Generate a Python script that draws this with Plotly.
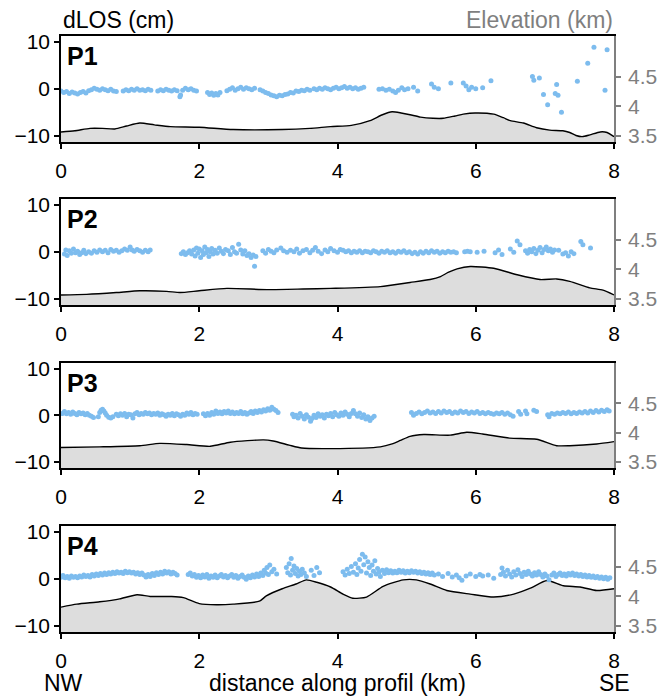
import plotly.graph_objects as go

# ---------------- data ----------------
dist_ticks = [0, 2, 4, 6, 8]
dlos_ticks = [-10, 0, 10]
dlos_ticktext = ["\u221210", "0", "10"]
elev_ticks = [3.5, 4, 4.5]
elev_ticktext = ["3.5", "4", "4.5"]
panel_names = ["P1", "P2", "P3", "P4"]

# elevation profiles (km along profile, elevation km)
p1_elev_x = [0, 0.2, 0.42, 0.6, 0.78, 0.95, 1.14, 1.35, 1.58, 2.0, 2.49, 3.2, 3.6, 3.9, 4.2, 4.47, 4.65, 4.79, 4.92,
             5.05, 5.2, 5.38, 5.53, 5.7, 5.82, 5.99, 6.26, 6.4, 6.5, 6.69, 6.88, 7.07, 7.26, 7.36, 7.45, 7.54, 7.65,
             7.8, 7.9, 8.0]
p1_elev_z = [3.57, 3.59, 3.63, 3.63, 3.62, 3.67, 3.72, 3.69, 3.66, 3.65, 3.61, 3.61, 3.63, 3.66, 3.68, 3.76, 3.86, 3.91,
             3.89, 3.86, 3.82, 3.80, 3.80, 3.84, 3.87, 3.89, 3.87, 3.81, 3.76, 3.72, 3.64, 3.60, 3.59, 3.56, 3.51, 3.49,
             3.52, 3.57, 3.56, 3.49]

p2_elev_x = [0, 0.37, 0.8, 1.14, 1.53, 1.72, 2.0, 2.4, 2.98, 3.5, 3.9, 4.62, 5.05, 5.34, 5.49, 5.6, 5.73, 5.92, 6.26,
             6.6, 6.93, 7.17, 7.36, 7.65, 7.84, 8.0]
p2_elev_z = [3.57, 3.58, 3.61, 3.64, 3.63, 3.61, 3.64, 3.68, 3.66, 3.67, 3.68, 3.71, 3.78, 3.83, 3.88, 3.95, 4.01, 4.05,
             4.02, 3.91, 3.83, 3.84, 3.80, 3.69, 3.65, 3.57]

p3_elev_x = [0, 0.56, 1.14, 1.43, 1.82, 2.16, 2.45, 2.93, 3.07, 3.3, 3.48, 3.9, 4.62, 4.79, 4.91, 5.05, 5.25, 5.63,
             5.87, 6.1, 6.49, 6.88, 7.17, 7.36, 7.75, 8.0]
p3_elev_z = [3.75, 3.76, 3.78, 3.82, 3.80, 3.77, 3.84, 3.88, 3.86, 3.79, 3.74, 3.73, 3.76, 3.81, 3.87, 3.94, 3.97, 3.96,
             4.01, 3.98, 3.91, 3.89, 3.78, 3.78, 3.81, 3.85]

p4_elev_x = [0, 0.23, 0.56, 0.85, 1.1, 1.29, 1.6, 1.77, 2.0, 2.25, 2.49, 2.87, 2.97, 3.2, 3.4, 3.55, 3.7, 3.9, 4.08,
             4.22, 4.42, 4.66, 4.95, 5.14, 5.34, 5.58, 5.92, 6.26, 6.55, 6.79, 7.03, 7.27, 7.51, 7.75, 8.0]
p4_elev_z = [3.82, 3.87, 3.91, 3.96, 4.03, 4.00, 4.00, 3.98, 3.88, 3.86, 3.87, 3.92, 4.01, 4.13, 4.21, 4.28, 4.24, 4.16,
             4.04, 3.97, 3.99, 4.17, 4.28, 4.28, 4.21, 4.10, 4.04, 3.99, 4.04, 4.14, 4.27, 4.18, 4.16, 4.10, 4.13]

# dLOS points (km along profile, cm)
p1_los_x = [0.00, 0.04, 0.08, 0.12, 0.16, 0.20, 0.24, 0.28, 0.32, 0.36, 0.40, 0.44, 0.48, 0.52, 0.56, 0.60, 0.64, 0.68,
            0.72, 0.76, 0.80, 0.90, 0.94, 0.98, 1.02, 1.06, 1.10, 1.14, 1.18, 1.22, 1.26, 1.30, 1.40, 1.44, 1.48, 1.52,
            1.56, 1.60, 1.64, 1.68, 1.72, 1.73, 1.76, 1.80, 1.84, 1.88, 1.92, 1.96, 2.12, 2.15, 2.18, 2.21, 2.24, 2.27,
            2.30, 2.40, 2.44, 2.48, 2.52, 2.56, 2.60, 2.64, 2.68, 2.72, 2.76, 2.80, 2.88, 2.92, 2.96, 3.00, 3.04, 3.08,
            3.12, 3.16, 3.20, 3.24, 3.28, 3.32, 3.36, 3.40, 3.44, 3.48, 3.52, 3.56, 3.60, 3.66, 3.70, 3.74, 3.78, 3.82,
            3.86, 3.90, 3.94, 3.98, 4.02, 4.06, 4.10, 4.14, 4.18, 4.22, 4.26, 4.30, 4.34, 4.38, 4.60, 4.65, 4.70, 4.75,
            4.80, 4.84, 4.88, 4.93, 4.97, 5.02, 5.10, 5.16, 5.36, 5.40, 5.46, 5.64, 5.82, 5.86, 5.90, 5.94, 6.00, 6.10,
            6.22, 6.82, 6.84, 6.92, 6.98, 7.04, 7.15, 7.17, 7.19, 7.24, 7.47, 7.62, 7.71, 7.87, 7.90]
p1_los_y = [-0.5, -0.8, -0.6, -1.0, -0.7, -0.9, -1.1, -0.8, -0.6, -0.9, -0.4, -0.2, 0.1, -0.1, -0.3, 0.0, -0.2, -0.4,
            -0.1, -0.5, -0.6, -0.5, -0.2, -0.4, -0.1, -0.3, 0.0, -0.3, -0.2, -0.4, -0.1, -0.3, -0.5, -0.2, -0.4, -0.1,
            -0.3, -0.5, -0.2, -0.4, -1.7, -1.3, -0.3, 0.1, -0.2, 0.0, -0.3, -0.5, -0.8, -1.2, -0.9, -1.4, -1.0, -1.3,
            -0.8, -0.4, -0.1, 0.2, -0.3, 0.0, 0.3, -0.1, 0.2, 0.0, -0.2, 0.1, -0.2, -0.5, -0.8, -1.0, -1.3, -1.5,
            -1.7, -1.4, -1.5, -1.2, -1.1, -0.8, -0.9, -0.5, -0.6, -0.3, -0.4, -0.1, -0.3, 0.0, -0.2, 0.1, -0.1, 0.2,
            0.0, -0.2, 0.1, 0.3, 0.0, 0.2, 0.5, 0.1, 0.3, 0.0, 0.2, -0.1, 0.1, 0.3, -0.1, 0.0, -0.3, -0.1, -0.5,
            -0.8, -0.3, 0.2, -0.2, 0.0, 0.3, -0.5, 1.0, 0.3, 0.0, 1.2, 1.2, 0.6, -0.2, 0.3, 0.0, 0.2, 1.7, 2.6,
            1.8, 2.3, -1.2, -3.4, -1.0, 0.9, -1.4, -5.0, 1.6, 5.4, 8.8, -0.3, 8.3]

p2_los_x = [0.05, 0.07, 0.09, 0.12, 0.15, 0.18, 0.21, 0.24, 0.27, 0.30, 0.33, 0.36, 0.40, 0.44, 0.48, 0.52, 0.56, 0.60,
            0.64, 0.68, 0.72, 0.76, 0.80, 0.84, 0.88, 0.92, 0.96, 1.00, 1.03, 1.06, 1.10, 1.14, 1.18, 1.22, 1.26, 1.29,
            1.74, 1.77, 1.80, 1.83, 1.86, 1.89, 1.92, 1.94, 1.96, 1.98, 2.00, 2.02, 2.04, 2.06, 2.08, 2.10, 2.12, 2.14,
            2.16, 2.18, 2.20, 2.23, 2.26, 2.29, 2.32, 2.35, 2.38, 2.42, 2.45, 2.48, 2.51, 2.54, 2.57, 2.60, 2.63, 2.66,
            2.69, 2.72, 2.75, 2.78, 2.80, 2.82, 2.92, 2.96, 3.00, 3.04, 3.08, 3.12, 3.18, 3.22, 3.27, 3.32, 3.37, 3.41,
            3.45, 3.50, 3.55, 3.60, 3.64, 3.68, 3.72, 3.77, 3.82, 3.86, 3.90, 3.95, 4.00, 4.04, 4.08, 4.12, 4.16, 4.20,
            4.24, 4.28, 4.32, 4.36, 4.40, 4.44, 4.48, 4.52, 4.56, 4.60, 4.64, 4.68, 4.72, 4.76, 4.80, 4.84, 4.88, 4.92,
            4.96, 5.00, 5.04, 5.08, 5.12, 5.16, 5.20, 5.24, 5.28, 5.32, 5.36, 5.40, 5.44, 5.48, 5.52, 5.56, 5.60, 5.64,
            5.68, 5.72, 5.84, 5.88, 5.92, 6.02, 6.12, 6.28, 6.33, 6.38, 6.50, 6.55, 6.60, 6.64, 6.72, 6.75, 6.78, 6.81,
            6.84, 6.87, 6.90, 6.93, 6.96, 6.99, 7.02, 7.05, 7.08, 7.11, 7.14, 7.20, 7.26, 7.30, 7.34, 7.38, 7.42, 7.52,
            7.55, 7.66]
p2_los_y = [-0.5, 0.4, -0.8, 0.2, -0.3, 0.6, -0.2, 0.1, -0.6, -0.2, 0.3, -0.4, 0.0, -0.3, 0.2, -0.1, 0.4, 0.0,
            0.3, -0.2, 0.5, 0.1, 0.3, -0.1, 0.2, 0.6, 0.3, 1.0, 0.4, 0.1, 0.5, 0.2, -0.1, 0.3, 0.0, 0.4,
            -0.4, 0.0, -0.6, -0.2, 0.2, -0.5, 0.4, -0.9, 0.8, -0.3, 0.6, -1.2, 0.2, -0.6, 1.0, -0.2, 0.5, -1.0,
            0.0, 0.7, -0.5, 0.3, -0.3, 0.8, 0.1, -0.4, 0.5, 0.2, -0.6, 0.9, 0.0, -0.3, 1.6, 0.4, -0.5, 0.2,
            -0.8, -0.4, -1.2, -0.7, -3.1, -1.0, 0.2, -0.3, 0.5, 0.1, -0.2, 0.4, 0.8, 0.2, -0.1, 0.3, 0.0, 0.6,
            -0.3, 0.2, 0.5, -0.2, 0.3, 0.9, 0.1, -0.4, 0.4, 0.0, 0.7, 0.2, -0.1, 0.5, 0.3, 0.0, 0.2, -0.2,
            0.1, -0.1, 0.2, -0.2, 0.1, 0.0, -0.2, 0.2, 0.0, -0.3, 0.1, -0.1, 0.2, -0.2, 0.0, -0.3, 0.1, -0.1,
            0.2, -0.2, 0.0, -0.4, -0.1, -0.5, 0.0, -0.3, 0.1, -0.2, 0.2, -0.1, 0.1, -0.3, 0.0, -0.2, 0.1, -0.1,
            0.0, -0.2, 0.0, 0.1, 0.0, -0.1, 0.1, -0.2, 0.4, -0.6, 0.6, -0.1, 2.3, 1.5, 0.2, -0.3, 0.5, 0.0,
            0.7, -0.4, 0.3, 0.9, -0.2, 0.5, 1.0, 0.2, 0.6, -0.1, 0.4, 0.3, -0.5, -0.2, -0.9, 0.0, -0.4, 2.2,
            1.5, 0.8]

p3_los_x = [0.02, 0.05, 0.08, 0.11, 0.14, 0.17, 0.20, 0.23, 0.26, 0.29, 0.32, 0.35, 0.38, 0.41, 0.44, 0.47, 0.54, 0.56,
            0.58, 0.60, 0.62, 0.64, 0.66, 0.69, 0.72, 0.75, 0.80, 0.83, 0.86, 0.89, 0.92, 0.95, 0.98, 1.01, 1.04, 1.07,
            1.10, 1.13, 1.16, 1.19, 1.22, 1.25, 1.28, 1.31, 1.34, 1.37, 1.40, 1.43, 1.46, 1.49, 1.52, 1.55, 1.58, 1.61,
            1.64, 1.67, 1.70, 1.73, 1.76, 1.79, 1.82, 1.85, 1.88, 1.91, 1.94, 1.97, 2.06, 2.09, 2.12, 2.15, 2.18, 2.21,
            2.24, 2.27, 2.30, 2.33, 2.36, 2.39, 2.42, 2.45, 2.48, 2.51, 2.54, 2.57, 2.60, 2.63, 2.66, 2.69, 2.72, 2.75,
            2.78, 2.81, 2.84, 2.87, 2.90, 2.93, 2.96, 2.99, 3.02, 3.05, 3.08, 3.11, 3.14, 3.35, 3.37, 3.40, 3.43, 3.46,
            3.49, 3.52, 3.55, 3.58, 3.61, 3.63, 3.66, 3.69, 3.72, 3.75, 3.78, 3.81, 3.84, 3.87, 3.90, 3.93, 3.96, 3.99,
            4.02, 4.05, 4.08, 4.11, 4.14, 4.17, 4.20, 4.23, 4.26, 4.29, 4.32, 4.35, 4.38, 4.41, 4.44, 4.47, 4.50, 4.53,
            5.07, 5.10, 5.14, 5.18, 5.22, 5.26, 5.30, 5.34, 5.38, 5.42, 5.46, 5.50, 5.54, 5.58, 5.62, 5.66, 5.70, 5.74,
            5.78, 5.82, 5.86, 5.90, 5.94, 5.98, 6.02, 6.06, 6.10, 6.14, 6.18, 6.22, 6.26, 6.30, 6.34, 6.38, 6.42, 6.46,
            6.50, 6.54, 6.62, 6.65, 6.72, 6.74, 6.84, 6.88, 7.04, 7.06, 7.10, 7.14, 7.18, 7.22, 7.26, 7.30, 7.34, 7.38,
            7.42, 7.46, 7.50, 7.54, 7.58, 7.62, 7.66, 7.70, 7.74, 7.78, 7.82, 7.86, 7.90, 7.93]
p3_los_y = [0.4, 0.8, 0.3, 0.6, 0.2, 0.7, 0.4, 0.1, 0.6, 0.3, 0.5, 0.1, 0.4, 0.0, -0.2, -0.5, -0.3, 0.6,
            1.1, 1.3, 0.9, 0.5, 0.0, -0.4, -0.6, -0.3, 0.2, -0.1, 0.3, 0.0, 0.4, -0.3, 0.2, 0.1, -0.6, 0.3,
            0.6, 0.1, 0.4, 0.2, 0.6, 0.3, 0.5, 0.1, 0.4, 0.2, 0.5, 0.0, 0.3, 0.1, -0.2, 0.2, 0.0, 0.4,
            -0.1, 0.3, 0.1, -0.2, 0.2, 0.0, 0.5, 0.2, 0.6, 0.1, 0.4, 0.2, 0.3, -0.1, 0.4, 0.0, 0.6, 0.2,
            0.9, 0.4, 0.7, 0.3, 0.8, 0.5, 0.9, 0.4, 0.7, 0.3, 0.6, 0.4, 0.8, 0.3, 0.6, 0.2, 0.5, 0.8,
            0.4, 0.9, 0.6, 1.0, 0.7, 1.2, 0.9, 1.4, 1.1, 1.7, 1.3, 1.0, 0.6, 0.2, -0.3, 0.0, -0.6, 0.4,
            -0.2, -0.8, 0.1, -0.4, -1.3, -0.7, 0.0, -0.5, 0.3, -0.2, 0.1, -0.6, 0.2, -0.1, 0.4, -0.3, 0.6, 0.1,
            -0.2, 0.5, 0.0, 0.7, 0.2, -0.3, 0.4, 1.0, 0.3, -0.2, 0.5, -0.5, 0.1, -0.8, -0.3, -1.1, -0.6, -0.2,
            0.6, 0.0, 0.4, 0.7, 0.3, 0.6, 0.9, 0.5, 0.7, 0.4, 0.8, 0.5, 0.9, 0.6, 0.8, 0.4, 0.7, 0.5,
            0.9, 0.6, 0.8, 0.4, 0.7, 0.5, 0.8, 0.4, 0.6, 0.3, 0.6, 0.4, 0.2, 0.5, 0.3, 0.6, 0.2, 0.5,
            0.1, -0.2, 0.8, 0.2, 0.9, 0.3, 1.1, 0.8, 0.1, -0.3, 0.4, 0.2, 0.5, 0.3, 0.6, 0.4, 0.7, 0.3,
            0.6, 0.4, 0.7, 0.5, 0.8, 0.5, 0.9, 0.6, 1.0, 0.7, 1.1, 0.8, 1.2, 0.9]

p4_los_x = [0.00, 0.03, 0.06, 0.09, 0.12, 0.15, 0.18, 0.21, 0.24, 0.27, 0.30, 0.33, 0.36, 0.39, 0.42, 0.45, 0.48, 0.51,
            0.54, 0.57, 0.60, 0.63, 0.66, 0.69, 0.72, 0.75, 0.78, 0.81, 0.84, 0.87, 0.90, 0.93, 0.96, 0.99, 1.02, 1.05,
            1.08, 1.11, 1.14, 1.17, 1.20, 1.23, 1.26, 1.29, 1.32, 1.35, 1.38, 1.41, 1.44, 1.47, 1.50, 1.53, 1.56, 1.59,
            1.62, 1.65, 1.68, 1.84, 1.87, 1.90, 1.93, 1.96, 1.99, 2.02, 2.05, 2.08, 2.11, 2.14, 2.17, 2.20, 2.23, 2.26,
            2.29, 2.32, 2.35, 2.38, 2.41, 2.44, 2.47, 2.50, 2.53, 2.56, 2.59, 2.62, 2.65, 2.68, 2.71, 2.74, 2.77, 2.80,
            2.83, 2.86, 2.89, 2.92, 2.94, 2.96, 2.98, 3.00, 3.02, 3.05, 3.08, 3.12, 3.26, 3.28, 3.30, 3.32, 3.33, 3.35,
            3.37, 3.39, 3.41, 3.43, 3.45, 3.47, 3.49, 3.52, 3.55, 3.62, 3.66, 3.70, 3.74, 4.08, 4.11, 4.14, 4.17, 4.20,
            4.23, 4.26, 4.28, 4.30, 4.32, 4.34, 4.36, 4.38, 4.40, 4.42, 4.44, 4.46, 4.48, 4.50, 4.52, 4.54, 4.56, 4.58,
            4.60, 4.62, 4.65, 4.68, 4.71, 4.74, 4.77, 4.80, 4.83, 4.86, 4.89, 4.92, 4.95, 4.98, 5.01, 5.04, 5.07, 5.10,
            5.13, 5.16, 5.19, 5.22, 5.25, 5.28, 5.31, 5.34, 5.37, 5.40, 5.46, 5.52, 5.60, 5.66, 5.72, 5.76, 5.80, 5.86,
            5.92, 6.00, 6.06, 6.10, 6.18, 6.26, 6.36, 6.38, 6.40, 6.43, 6.46, 6.49, 6.52, 6.55, 6.58, 6.61, 6.64, 6.67,
            6.70, 6.73, 6.76, 6.79, 6.82, 6.85, 6.88, 6.91, 6.94, 6.97, 7.00, 7.03, 7.06, 7.10, 7.13, 7.16, 7.19, 7.22,
            7.25, 7.28, 7.31, 7.34, 7.37, 7.40, 7.43, 7.46, 7.49, 7.52, 7.55, 7.58, 7.61, 7.64, 7.67, 7.70, 7.73, 7.76,
            7.79, 7.82, 7.85, 7.88, 7.91, 7.94]
p4_los_y = [0.3, 0.7, 0.2, 0.5, 0.1, 0.6, 0.3, 0.5, 0.2, 0.6, 0.4, 0.8, 0.5, 0.7, 0.4, 0.9, 0.6, 1.0,
            0.7, 1.1, 0.8, 1.2, 0.9, 1.3, 1.0, 1.4, 1.1, 1.5, 1.2, 1.4, 1.1, 1.6, 1.3, 1.5, 1.2, 1.4,
            1.0, 1.3, 0.9, 1.2, 0.8, 0.4, 0.9, 0.5, 1.1, 0.7, 1.3, 0.9, 1.4, 1.0, 1.6, 1.2, 1.5, 1.0,
            1.4, 1.1, 0.8, 0.9, 1.2, 0.6, 0.9, 0.3, 0.7, 0.2, 0.8, 0.4, 0.9, 0.1, 0.6, 0.3, 0.8, 0.2,
            0.6, 0.9, 0.4, 0.7, 0.2, 0.6, 0.9, 0.3, 0.7, 0.1, 0.5, 0.8, 0.3, -0.1, 0.6, 0.2, 0.8, 0.4,
            1.0, 0.5, 1.2, 0.7, 1.8, 1.2, 2.4, 0.9, 2.9, 1.5, 2.0, 1.0, 2.4, 1.3, 3.2, 0.8, 4.3, 1.8,
            2.7, 1.1, 2.2, 0.6, 1.6, 0.9, 2.0, 1.2, 0.5, 1.8, 0.7, 2.4, 1.3, 1.5, 0.8, 2.0, 1.1, 2.6,
            1.4, 3.2, 0.9, 2.3, 4.1, 1.6, 5.2, 3.0, 4.6, 1.2, 3.6, 2.4, 0.7, 2.9, 1.6, 3.8, 1.0, 2.2,
            1.4, 0.5, 1.8, 1.1, 1.9, 1.3, 1.7, 1.2, 1.6, 1.3, 1.8, 1.4, 1.7, 1.2, 1.6, 1.3, 1.7, 1.4,
            1.6, 1.2, 1.5, 1.1, 1.4, 1.0, 1.3, 0.9, 1.2, 0.8, 1.0, 0.5, 1.1, 0.4, 0.8, 0.2, -0.3, 0.6,
            1.0, 0.5, 0.9, 0.6, 0.8, 0.1, 0.9, 2.3, 1.4, 0.6, 1.8, 1.0, 0.4, 1.5, 0.8, 1.9, 1.1, 0.5,
            1.4, 0.9, 1.6, 1.0, 0.6, 1.3, 0.8, 1.5, 0.9, 0.4, 1.0, 0.6, -0.2, 0.8, 1.2, 0.5, 0.9, 1.2,
            0.7, 1.0, 0.6, 1.1, 0.8, 1.2, 0.7, 1.0, 0.6, 0.9, 0.5, 0.8, 0.4, 0.7, 0.3, 0.6, 0.2, 0.5,
            0.1, 0.4, 0.0, 0.3, -0.1, 0.2]

elev_x = [p1_elev_x, p2_elev_x, p3_elev_x, p4_elev_x]
elev_z = [p1_elev_z, p2_elev_z, p3_elev_z, p4_elev_z]
los_x = [p1_los_x, p2_los_x, p3_los_x, p4_los_x]
los_y = [p1_los_y, p2_los_y, p3_los_y, p4_los_y]

# ---------------- layout constants ----------------
W, H = 661, 697
ML, MR, MT, MB = 61, 47, 36, 65
PW = W - ML - MR
PH = H - MT - MB
panel_px = [(36, 142), (199, 305), (363, 468), (526, 632)]  # top, bottom in px


def py(px):
    return (H - MB - px) / PH


def pxx(px):
    return (px - ML) / PW


FONT = "Liberation Sans, Arial, Helvetica, sans-serif"
GRAY = "#7f7f7f"
DOT = "#7dbcee"

fig = go.Figure()
layout = dict(
    width=W, height=H,
    margin=dict(l=ML, r=MR, t=MT, b=MB, pad=0, autoexpand=False),
    paper_bgcolor="white", plot_bgcolor="white",
    showlegend=False,
    font=dict(family=FONT, size=21, color="black"),
)

for i in range(4):
    n = i + 1
    xa = "x" if n == 1 else f"x{n}"
    ya = "y" if n == 1 else f"y{n}"
    yl = f"y{n + 4}"
    top, bot = panel_px[i]
    dom = [py(bot), py(top)]

    fig.add_trace(go.Scatter(x=elev_x[i], y=elev_z[i], mode="lines",
                             line=dict(color="black", width=1.4, shape="spline", smoothing=0.6),
                             fill="tozeroy", fillcolor="#dddddd",
                             xaxis=xa, yaxis=ya, hoverinfo="skip"))
    fig.add_trace(go.Scatter(x=los_x[i], y=los_y[i], mode="markers",
                             marker=dict(size=5, color=DOT, line=dict(width=0)),
                             xaxis=xa, yaxis=yl))

    layout["xaxis" if n == 1 else f"xaxis{n}"] = dict(
        domain=[0, 1], anchor=ya, range=[0, 8], tickvals=dist_ticks,
        ticks="outside", ticklen=5, tickwidth=1.5, tickcolor="black",
        showline=True, linecolor="black", linewidth=1.6, mirror=True,
        showgrid=False, zeroline=False, tickfont=dict(size=21, color="black"),
        ticklabelstandoff=4, automargin=False,
    )
    layout["yaxis" if n == 1 else f"yaxis{n}"] = dict(
        domain=dom, anchor=xa, side="right", range=[3.40, 5.19],
        tickvals=elev_ticks, ticktext=elev_ticktext,
        ticks="outside", ticklen=5, tickwidth=1.5, tickcolor=GRAY,
        showline=True, linecolor=GRAY, linewidth=1.6,
        showgrid=False, zeroline=False, tickfont=dict(size=21, color=GRAY),
        ticklabelstandoff=3, automargin=False,
    )
    layout[f"yaxis{n + 4}"] = dict(
        overlaying=ya, anchor=xa, side="left", range=[-11.3, 11.2],
        tickvals=dlos_ticks, ticktext=dlos_ticktext,
        ticks="outside", ticklen=5, tickwidth=1.5, tickcolor="black",
        showline=True, linecolor="black", linewidth=1.6,
        showgrid=False, zeroline=False, tickfont=dict(size=21, color="black"),
        automargin=False,
    )

annotations = []
for i, name in enumerate(panel_names):
    top, bot = panel_px[i]
    annotations.append(dict(text=f"<b>{name}</b>", xref="paper", yref="paper",
                            x=pxx(82), y=py(top + 20), xanchor="center", yanchor="middle",
                            showarrow=False,
                            font=dict(family=FONT, size=25, color="black")))

annotations += [
    dict(text="dLOS (cm)", xref="paper", yref="paper", x=pxx(118), y=py(20), xanchor="center", yanchor="middle",
         showarrow=False, font=dict(size=23, color="black")),
    dict(text="Elevation (km)", xref="paper", yref="paper", x=pxx(539), y=py(20), xanchor="center",
         yanchor="middle", showarrow=False, font=dict(size=23, color=GRAY)),
    dict(text="NW", xref="paper", yref="paper", x=pxx(63), y=py(683), xanchor="center", yanchor="middle",
         showarrow=False, font=dict(size=23, color="black")),
    dict(text="distance along profil (km)", xref="paper", yref="paper", x=pxx(337), y=py(683), xanchor="center",
         yanchor="middle", showarrow=False, font=dict(size=23, color="black")),
    dict(text="SE", xref="paper", yref="paper", x=pxx(614), y=py(683), xanchor="center", yanchor="middle",
         showarrow=False, font=dict(size=23, color="black")),
]
layout["annotations"] = annotations

fig.update_layout(**layout)
fig.write_html("out.html")
